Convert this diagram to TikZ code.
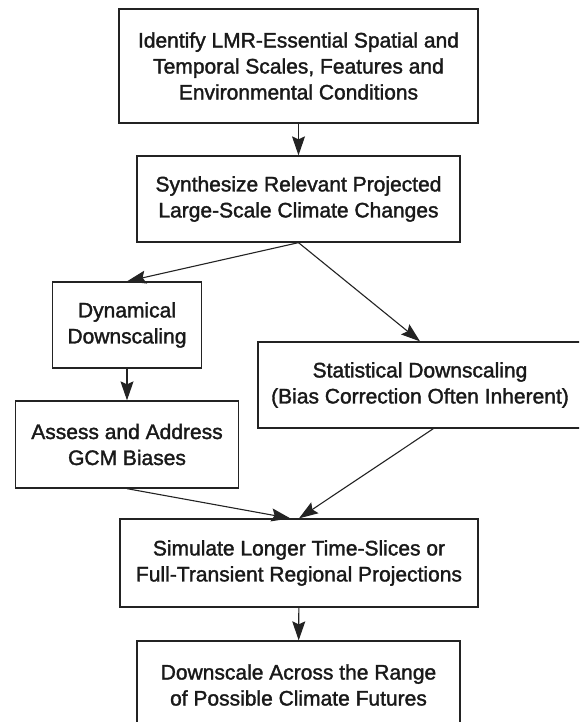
\documentclass[tikz,border=0pt]{standalone}
\usepackage{fontspec}
\setmainfont[FakeBold=1.6]{Liberation Sans}
\usetikzlibrary{arrows.meta,positioning}
\definecolor{FlowInk}{RGB}{35,35,35}

\begin{document}
\begin{tikzpicture}[x=1pt, y=-1pt,
    font=\fontsize{21}{26}\selectfont,
    stepbox/.style={draw=FlowInk, line width=1.3pt, align=center, inner sep=0pt, text=black!90},
    flow/.style={draw=FlowInk, line width=1.1pt, -{Stealth[length=19pt, width=13pt, inset=3pt]}}]
  % Page frame
  \clip (0,0) rectangle (579,722);
  \fill[white] (0,0) rectangle (579,722);

  % Boxes
  \node[stepbox, minimum width=359pt, minimum height=114pt] (ident) at (298.5,66)
    {Identify LMR-Essential Spatial and\\Temporal Scales, Features and\\Environmental Conditions};
  \node[stepbox, minimum width=323pt, minimum height=86pt] (synth) at (298.5,199)
    {Synthesize Relevant Projected\\Large-Scale Climate Changes};
  \node[stepbox, minimum width=149pt, minimum height=86pt] (dyn) at (127,325)
    {Dynamical\\Downscaling};
  \node[stepbox, minimum width=223pt, minimum height=87pt] (assess) at (127,444.5)
    {Assess and Address\\GCM Biases};
  \node[stepbox, minimum width=324pt, minimum height=86pt] (stat) at (420,385)
    {Statistical Downscaling\\(Bias Correction Often Inherent)};
  \node[stepbox, minimum width=358pt, minimum height=88pt] (sim) at (299,563)
    {Simulate Longer Time-Slices or\\Full-Transient Regional Projections};
  \node[stepbox, minimum width=323pt, minimum height=88pt] (down) at (298.5,685)
    {Downscale Across the Range\\of Possible Climate Futures};

  % Connectors
  \draw[flow] (ident) -- (synth);
  \draw[flow] (synth.south) -- (dyn.north);
  \draw[flow] (synth.south) -- (stat.north);
  \draw[flow] (dyn) -- (assess);
  \draw[flow] (assess.south) -- (sim.101);
  \draw[flow] (stat.-73) -- (sim.north);
  \draw[flow] (sim) -- (down);
\end{tikzpicture}
\end{document}
